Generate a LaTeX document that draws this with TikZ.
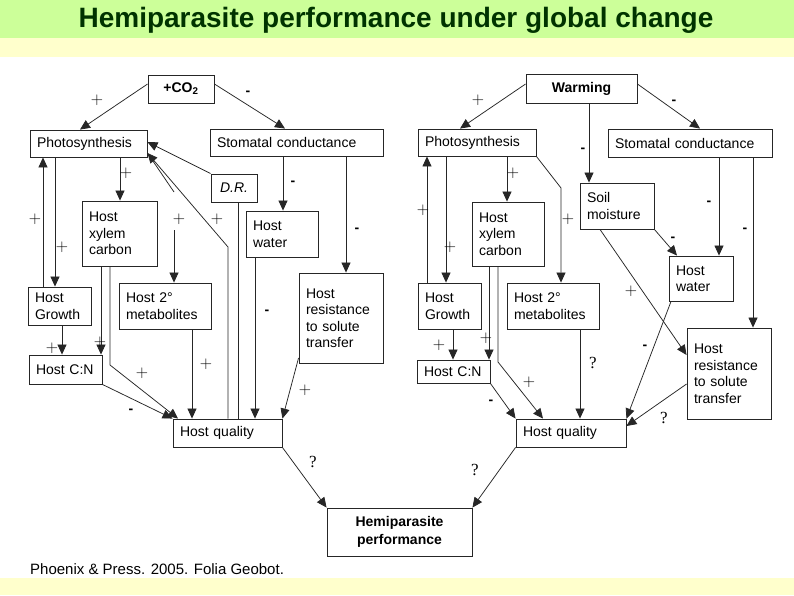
\documentclass[tikz,border=0pt]{standalone}
\usepackage{fontspec}
\newfontfamily\arial{Liberation Sans}
\newfontfamily\tnr{Liberation Serif}
\usetikzlibrary{arrows.meta,calc}
\definecolor{titlebg}{RGB}{204,255,153}
\definecolor{bandbg}{RGB}{255,255,204}
\definecolor{titlefg}{RGB}{0,51,0}
\newcommand\hpbox[7]{%
  \pgfmathsetmacro\hpw{#5-#3}\pgfmathsetmacro\hph{#6-#4}%
  \pgfmathsetmacro\hpx{(#3+#5)/2}\pgfmathsetmacro\hpy{(#4+#6)/2}%
  \pgfmathsetmacro\hptw{#5-#3-14}%
  \node[box,minimum width=\hpw pt,minimum height=\hph pt,text width=\hptw pt,#1] (#2) at (\hpx,\hpy) {#7};}
\begin{document}
\begin{tikzpicture}[x=1pt,y=-1pt,
  box/.style={draw=black!85,line width=0.9pt,inner xsep=7pt,inner ysep=0pt,align=left,
    font=\arial\fontsize{14}{16.5}\selectfont},
  ctr/.style={align=center},
  arr/.style={draw=black!85,line width=0.75pt,-{Triangle[length=10pt,width=9pt]}},
  ln/.style={draw=black!85,line width=0.75pt},
  plus/.style={font=\fontsize{17}{17}\selectfont,inner sep=0pt},
  minus/.style={font=\arial\bfseries\fontsize{14}{14}\selectfont,inner sep=0pt},
  qm/.style={font=\tnr\fontsize{17}{17}\selectfont,inner sep=0pt}]
\fill[white] (0,0) rectangle (794,595);
\fill[titlebg] (0,0) rectangle (794,38);
\fill[bandbg] (0,38) rectangle (794,57);
\fill[bandbg] (0,578) rectangle (794,595);
\useasboundingbox (0,0) rectangle (794,595);
\node[font=\arial\bfseries\fontsize{28}{28}\selectfont,text=titlefg] (title) at (396,20) {Hemiparasite performance under global change};
% left boxes
\hpbox{ctr,font=\arial\bfseries\fontsize{14}{16.5}\selectfont}{co2}{148}{75}{214}{103}{+CO\textsubscript{2}}
\hpbox{}{psL}{30}{130}{147}{157}{Photosynthesis}
\hpbox{}{scL}{210}{129}{383}{156}{Stomatal conductance}
\hpbox{ctr,inner xsep=4pt,text width=38pt,font=\arial\itshape\fontsize{14}{16.5}\selectfont}{dr}{211}{174}{257}{202}{D.R.}
\hpbox{}{hxL}{82}{201}{157}{266}{Host\\xylem\\carbon}
\hpbox{}{hgL}{28}{287}{91}{325}{Host\\Growth}
\hpbox{}{hmL}{119}{283}{211}{329}{Host 2°\\metabolites}
\hpbox{}{hwL}{246}{211}{318}{257}{Host\\water}
\hpbox{}{hrL}{299}{273}{383}{363}{Host\\resistance\\to solute\\transfer}
\hpbox{}{cnL}{29}{355}{102}{384}{Host C:N}
\hpbox{}{hqL}{173}{419}{282}{447}{Host quality}
\hpbox{ctr,font=\arial\bfseries\fontsize{14}{18}\selectfont}{hp}{327}{508}{472}{556}{Hemiparasite\\performance}
% right boxes
\hpbox{ctr,font=\arial\bfseries\fontsize{14}{16.5}\selectfont}{warm}{526}{74}{637}{103}{Warming}
\hpbox{}{psR}{418}{129}{536}{156}{Photosynthesis}
\hpbox{}{scR}{608}{129}{772}{157}{Stomatal conductance}
\hpbox{}{sm}{580}{183}{654}{229}{Soil\\moisture}
\hpbox{}{hxR}{472}{202}{544}{266}{Host\\xylem\\carbon}
\hpbox{}{hgR}{418}{283}{481}{329}{Host\\Growth}
\hpbox{}{hmR}{507}{283}{599}{329}{Host 2°\\metabolites}
\hpbox{}{hwR}{669}{256}{733}{301}{Host\\water}
\hpbox{}{hrR}{687}{328}{771}{419}{Host\\resistance\\to solute\\transfer}
\hpbox{}{cnR}{417}{360}{490}{383}{Host C:N}
\hpbox{}{hqR}{516}{419}{626}{447}{Host quality}
% left connectors
\draw[arr] (co2.west |- 0,84) -- (psL.north -| 80,0);
\draw[arr] (co2.east |- 0,84) -- (scL.north -| 285,0);
\draw[arr] (psL.south -| 120,0) -- (hxL.north -| 120,0);
\draw[arr] (hgL.north -| 43,0) -- (psL.south -| 43,0);
\draw[arr] (psL.south -| 55,0) -- (hgL.north -| 55,0);
\draw[arr] (hgL.south -| 62,0) -- (cnL.north -| 62,0);
\draw[arr] (hxL.south -| 101,0) -- (cnL.north -| 101,0);
\draw[arr] (hxL.south -| 110,0) -- (110,365) -- (hqL.north -| 178,0);
\draw[arr] (cnL.south east) -- (hqL.north west);
\draw[arr] (hmL.south -| 192,0) -- (hqL.north -| 192,0);
\draw[arr] (dr.north west) -- (psL.east |- 0,142);
\draw[arr] (hqL.north -| 228,0) -- (228,247) -- (psL.east |- 0,153);
\coordinate (brk1) at (174,192);
\coordinate (brk2) at (174,230);
\draw[ln] (psL.east |- 0,153) -- (brk1);
\draw[arr] (brk2) -- (hmL.north -| 174,0);
\draw[ln] (dr.south -| 238,0) -- (hqL.north -| 238,0);
\draw[arr] (scL.south -| 283,0) -- (hwL.north -| 283,0);
\draw[arr] (scL.south -| 346,0) -- (hrL.north -| 346,0);
\draw[arr] (hwL.south -| 255,0) -- (hqL.north -| 255,0);
\draw[arr] (hrL.west |- 0,358) -- (hqL.north east);
\draw[arr] (hqL.south east) -- (hp.north west);
% right connectors
\draw[arr] (warm.west |- 0,84) -- (psR.north -| 460,0);
\draw[arr] (warm.east |- 0,84) -- (scR.north -| 700,0);
\draw[arr] (warm.south -| 589,0) -- (sm.north -| 589,0);
\draw[arr] (psR.south -| 507,0) -- (hxR.north -| 507,0);
\draw[arr] (hgR.north -| 427,0) -- (psR.south -| 427,0);
\draw[arr] (psR.south -| 446,0) -- (hgR.north -| 446,0);
\draw[arr] (psR.south east) -- (561,188) -- (hmR.north -| 561,0);
\draw[arr] (scR.south -| 719,0) -- (hwR.north -| 719,0);
\draw[arr] (scR.south -| 753,0) -- (hrR.north -| 753,0);
\draw[arr] (sm.south east) -- (hwR.north -| 677,0);
\draw[arr] (sm.south -| 600,0) -- (hrR.west |- 0,355);
\draw[arr] (hwR.south -| 671,0) -- (hqR.north east);
\draw[arr] (hrR.west |- 0,384) -- (hqR.east |- 0,426);
\draw[arr] (hmR.south -| 580,0) -- (hqR.north -| 580,0);
\draw[arr] (hgR.south -| 453,0) -- (cnR.north -| 453,0);
\draw[arr] (hxR.south -| 489,0) -- (cnR.north -| 489,0);
\draw[arr] (hxR.south -| 498,0) -- (498,362) -- (hqR.north -| 543,0);
\draw[arr] (cnR.south east) -- (hqR.north west);
\draw[arr] (hqR.south west) -- (hp.north east);
% left labels
\node[plus] (a1) at (97,100) {+};
\node[minus] (a2) at (248,93) {-};
\node[plus] (a3) at (126,173) {+};
\node[plus] (a4) at (35,219) {+};
\node[plus] (a5) at (62,247) {+};
\node[plus] (a6) at (52,348) {+};
\node[plus] (a7) at (100,342) {+};
\node[plus] (a8) at (142,373) {+};
\node[minus] (a9) at (131,411) {-};
\node[plus] (a10) at (206,364) {+};
\node[plus] (a11) at (179,219) {+};
\node[plus] (a12) at (217,219) {+};
\node[minus] (a13) at (293,183) {-};
\node[minus] (a14) at (357,230) {-};
\node[minus] (a15) at (267,312) {-};
\node[plus] (a16) at (305,390) {+};
\node[qm] (a17) at (313,462) {?};
% right labels
\node[plus] (b1) at (478,100) {+};
\node[minus] (b2) at (674,102) {-};
\node[minus] (b3) at (583,150) {-};
\node[plus] (b4) at (513,173) {+};
\node[plus] (b5) at (423,210) {+};
\node[plus] (b6) at (450,247) {+};
\node[plus] (b7) at (568,219) {+};
\node[minus] (b8) at (709,203) {-};
\node[minus] (b9) at (745,230) {-};
\node[minus] (b10) at (673,239) {-};
\node[plus] (b11) at (631,291) {+};
\node[minus] (b12) at (645,347) {-};
\node[qm] (b13) at (664,418) {?};
\node[qm] (b14) at (593,363) {?};
\node[plus] (b15) at (439,345) {+};
\node[plus] (b16) at (486,338) {+};
\node[plus] (b17) at (529,382) {+};
\node[minus] (b18) at (491,402) {-};
\node[qm] (b19) at (475,470) {?};
% citation
\node[anchor=west,inner sep=0pt,font=\arial\fontsize{15}{15}\selectfont] (cite) at (30,569) {Phoenix \& Press. 2005. Folia Geobot.};
\end{tikzpicture}
\end{document}
